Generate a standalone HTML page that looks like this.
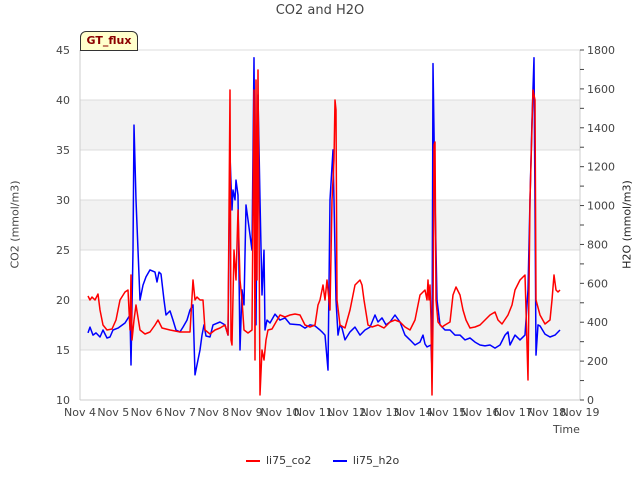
<!DOCTYPE html>
<html><head><meta charset="utf-8"><style>
body{margin:0;background:#fff;font-family:"Liberation Sans","DejaVu Sans",sans-serif}
svg text{font-family:"DejaVu Sans","Liberation Sans",sans-serif;fill:#444}
</style></head><body>
<svg id="c" width="640" height="480" xmlns="http://www.w3.org/2000/svg"></svg>
<script>
const dayTicks=[4,5,6,7,8,9,10,11,12,13,14,15,16,17,18,19];
const co2Ticks=[10,15,20,25,30,35,40,45];
const h2oTicks=[0,200,400,600,800,1000,1200,1400,1600,1800];
const co2Time=[4.24,4.30,4.36,4.45,4.54,4.60,4.69,4.81,4.96,5.08,5.20,5.35,5.44,5.50,5.53,5.56,5.62,5.68,5.80,5.95,6.10,6.25,6.34,6.46,6.70,7.00,7.30,7.39,7.45,7.51,7.60,7.69,7.75,7.90,8.05,8.20,8.35,8.44,8.50,8.53,8.56,8.62,8.68,8.74,8.80,8.86,8.92,9.04,9.16,9.22,9.25,9.28,9.31,9.34,9.37,9.40,9.46,9.52,9.58,9.64,9.76,10.00,10.15,10.30,10.45,10.60,10.75,10.90,11.05,11.14,11.20,11.29,11.35,11.41,11.50,11.56,11.62,11.65,11.68,11.71,11.80,11.95,12.10,12.25,12.40,12.46,12.52,12.64,12.76,12.94,13.12,13.30,13.45,13.60,13.75,13.90,14.05,14.20,14.35,14.41,14.44,14.47,14.50,14.53,14.56,14.59,14.62,14.65,14.68,14.74,14.86,14.95,15.10,15.19,15.28,15.40,15.49,15.58,15.70,15.85,16.00,16.15,16.30,16.45,16.54,16.66,16.84,16.96,17.05,17.20,17.35,17.44,17.50,17.59,17.65,17.68,17.80,17.95,18.10,18.16,18.22,18.28,18.34,18.40];
const co2Vals=[20.4,20,20.3,20,20.6,19,17.5,17,17.1,18,20,20.8,21,17,22.5,16,18,19.5,17,16.6,16.8,17.5,18,17.2,17,16.8,16.8,22,20,20.3,20,20,17,16.6,17,17.2,17.5,16.5,41,16,15.5,25,22,29,22,20,17,16.7,17,41,14,42,22,43,28,10.5,15,14,16,17,17.1,18.5,18.3,18.5,18.6,18.5,17.5,17.3,17.5,19.5,20,21.5,20,22,19,30,34,40,39,20,17.5,17.2,19,21.5,22,21.5,20,17.5,17.3,17.5,17.2,17.8,18,17.8,17.3,17,18,20.5,21,20,22,20,21.5,18,10.5,18,35.5,35.8,20,17.8,17.3,17.5,17.8,20.5,21.3,20.5,19,18,17.2,17.3,17.5,18,18.5,18.8,18,17.6,18.5,19.5,21,22,22.5,12,30,41,40,20,18.5,17.6,18,20,22.5,21,20.8,21];
const h2oTime=[4.24,4.30,4.39,4.48,4.60,4.69,4.81,4.90,4.99,5.14,5.35,5.50,5.53,5.59,5.62,5.68,5.74,5.80,5.89,5.98,6.10,6.25,6.31,6.37,6.43,6.52,6.58,6.70,6.79,6.88,7.00,7.09,7.21,7.30,7.39,7.45,7.54,7.60,7.66,7.72,7.78,7.90,7.99,8.20,8.35,8.44,8.50,8.56,8.59,8.65,8.68,8.74,8.80,8.86,8.92,8.98,9.04,9.16,9.22,9.28,9.34,9.40,9.46,9.52,9.55,9.61,9.70,9.85,10.00,10.15,10.30,10.60,10.75,10.90,11.05,11.20,11.26,11.35,11.44,11.50,11.59,11.68,11.74,11.80,11.86,11.95,12.10,12.25,12.40,12.55,12.70,12.85,12.94,13.06,13.18,13.30,13.45,13.60,13.75,13.90,14.05,14.20,14.29,14.35,14.41,14.53,14.56,14.59,14.65,14.71,14.80,14.95,15.10,15.25,15.40,15.55,15.70,15.85,16.00,16.15,16.30,16.45,16.60,16.75,16.84,16.90,17.05,17.20,17.35,17.44,17.50,17.56,17.62,17.68,17.74,17.80,17.95,18.10,18.25,18.40];
const h2oVals=[345,375,334,345,324,360,319,324,360,370,396,437,180,771,1414,1029,771,514,591,633,669,658,607,658,648,514,437,458,411,360,350,375,411,463,489,129,206,257,334,386,329,324,386,401,386,334,1260,977,1080,1029,1131,1054,257,566,489,1003,926,771,1760,386,1569,1029,540,771,360,411,396,442,411,422,391,386,370,386,381,360,350,334,154,1029,1286,514,334,386,370,309,350,375,334,360,375,437,401,422,386,401,437,401,334,309,283,298,334,288,273,283,154,1730,1029,514,386,360,360,334,334,309,319,298,283,278,283,267,283,334,350,283,334,309,334,566,1029,1440,1760,231,386,381,339,324,334,360];
const svg=document.getElementById('c');const NS='http://www.w3.org/2000/svg';
const L=80,R=580,T=50,B=400;
const xS=d=>L+(d-4)*(R-L)/15;
const yL=v=>B-(v-10)*(B-T)/35;
const yR=v=>B-v*(B-T)/1800;
function mk(tag,at,parent){const e=document.createElementNS(NS,tag);for(const k in at)e.setAttribute(k,at[k]);(parent||svg).appendChild(e);return e;}
// bands
for(const [a,b] of [[15,20],[25,30],[35,40]]){const r=mk('rect',{x:L,y:yL(b),width:R-L,height:yL(a)-yL(b),fill:'#f2f2f2'});

}
for(const v of co2Ticks){const g=mk('line',{x1:L,x2:R,y1:yL(v),y2:yL(v),stroke:'#dcdcdc','stroke-width':1});


const t=mk('text',{x:L-10,y:yL(v)+4,'text-anchor':'end','font-size':11});t.textContent=v;

}
mk('line',{x1:L,x2:L,y1:T,y2:B,stroke:'#ccc'});
mk('line',{x1:R,x2:R,y1:T,y2:B,stroke:'#ccc'});
mk('line',{x1:L,x2:R,y1:B,y2:B,stroke:'#ccc'});
for(const v of h2oTicks){const t=mk('text',{x:R+7,y:yR(v)+4,'font-size':11});t.textContent=v;

}
for(let v=0;v<=1800;v+=100){mk('line',{x1:R,x2:R+4,y1:yR(v),y2:yR(v),stroke:'#444'});}
for(const d of dayTicks){const t=mk('text',{x:xS(d),y:416,'text-anchor':'middle','font-size':11});t.textContent='Nov '+d;

}
function line(ts,vs,sc,col,name){const p=mk('path',{d:ts.map((t,i)=>(i?'L':'M')+xS(t).toFixed(1)+' '+sc(vs[i]).toFixed(1)).join(''),fill:'none',stroke:col,'stroke-width':1.5,'stroke-linejoin':'round'});

}
line(h2oTime,h2oVals,yR,'#0000ff','h2o-line');
line(co2Time,co2Vals,yL,'#ff0000','co2-line');
</script>
<div style="position:absolute;left:0;top:3px;width:640px;text-align:center;font:13px 'DejaVu Sans',sans-serif;color:#444">CO2 and H2O</div>
<div style="position:absolute;left:-45px;top:218px;width:120px;text-align:center;transform:rotate(-90deg);font:11px 'DejaVu Sans',sans-serif;color:#444">CO2 (mmol/m3)</div>
<div style="position:absolute;left:567px;top:218px;width:120px;text-align:center;transform:rotate(-90deg);font:11px 'DejaVu Sans',sans-serif;color:#222">H2O (mmol/m3)</div>
<div style="position:absolute;left:553px;top:423px;font:11px 'DejaVu Sans',sans-serif;color:#444">Time</div>
<div style="position:absolute;left:80px;top:31px;width:56px;height:18px;background:#ffffcc;border:1px solid #333;border-radius:6px 6px 0 0;font:bold 11px 'DejaVu Sans',sans-serif;color:#8b0000;text-align:center;line-height:18px">GT_flux</div>
<div style="position:absolute;left:246px;top:454px;font:11px 'DejaVu Sans',sans-serif;color:#333">
<span><span style="display:inline-block;width:14px;height:2px;background:#f00;vertical-align:middle;margin-right:6px"></span>li75_co2</span>
<span style="margin-left:18px"><span style="display:inline-block;width:14px;height:2px;background:#00f;vertical-align:middle;margin-right:6px"></span>li75_h2o</span>
</div>
</body></html>
